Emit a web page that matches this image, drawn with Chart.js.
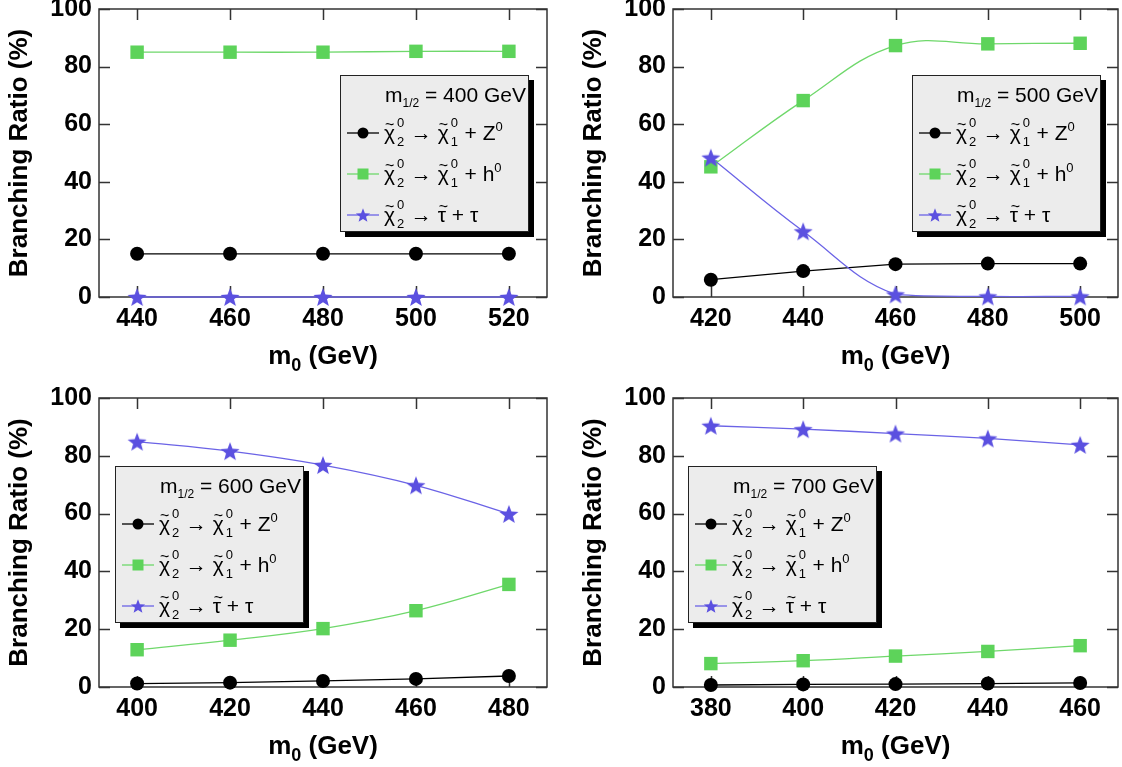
<!DOCTYPE html>
<html>
<head>
<meta charset="utf-8">
<title>Branching ratios</title>
<script src="https://cdn.jsdelivr.net/npm/chart.js@4.4.0/dist/chart.umd.min.js"></script>
<style>
html, body { margin: 0; padding: 0; background: #fff; }
body { position: relative; width: 1122px; height: 767px; overflow: hidden; font-family: "Liberation Sans", Arial, sans-serif; }
canvas.panel { position: absolute; }
.xt { position: absolute; width: 300px; text-align: center; font-size: 26px; font-weight: bold; line-height: 30px; color: #000; white-space: nowrap; }
.xt sub { font-size: 18px; line-height: 0; vertical-align: -7px; }
.leg { position: absolute; width: 189px; height: 157px; box-sizing: border-box; background: #ececec;
       border: 1.5px solid #222; box-shadow: 5px 5px 0 #000; color: #000; }
.leg .ttl { position: absolute; right: 2px; top: 6px; font-size: 21px; line-height: 26px; white-space: nowrap; }
.leg .ttl sub { font-size: 12px; line-height: 0; vertical-align: -5px; }
.leg .row { position: absolute; left: 0; height: 30px; display: flex; align-items: center; white-space: nowrap; font-size: 21px; }
.leg .row svg { width: 40px; height: 30px; flex: none; }
.leg .txt { margin-left: 3px; line-height: 30px; }
.tl { position: relative; display: inline-block; line-height: 21px; }
.tl .tld { position: absolute; left: 1px; top: -5px; font-size: 16px; line-height: 16px; }
.ss { display: inline-block; position: relative; width: 10px; height: 21px; vertical-align: baseline; }
.ss i { position: absolute; left: 2px; font-style: normal; font-size: 13px; line-height: 13px; }
.ss i.u { top: -3px; }
.ss i.d { top: 16px; }
.sp { font-size: 13px; line-height: 0; vertical-align: 9px; }
</style>
</head>
<body>
<script>
// m1/2 = 400 GeV
const m0_400 = [440, 460, 480, 500, 520];
const z_400 = [15, 15, 15, 15, 15];
const h_400 = [85, 85, 85, 85.3, 85.3];
const tau_400 = [0, 0, 0, 0, 0];

// m1/2 = 500 GeV
const m0_500 = [420, 440, 460, 480, 500];
const z_500 = [6.0, 9.0, 11.4, 11.6, 11.6];
const h_500 = [45.2, 68.2, 87.3, 87.9, 88.1];
const tau_500 = [48.4, 22.8, 0.9, 0.2, 0.2];

// m1/2 = 600 GeV
const m0_600 = [400, 420, 440, 460, 480];
const z_600 = [1.2, 1.5, 2.1, 2.8, 3.8];
const h_600 = [12.9, 16.2, 20.2, 26.4, 35.5];
const tau_600 = [84.9, 81.6, 76.8, 69.8, 59.9];

// m1/2 = 700 GeV
const m0_700 = [380, 400, 420, 440, 460];
const z_700 = [0.7, 0.9, 1.0, 1.2, 1.4];
const h_700 = [8.1, 9.1, 10.7, 12.3, 14.3];
const tau_700 = [90.4, 89.2, 87.7, 86.0, 83.8];

const yTicks = [0, 20, 40, 60, 80, 100];
const m12Labels = ['400', '500', '600', '700'];

const yTitle = 'Branching Ratio (%)';

const COL_Z = '#000000';
const COL_H = '#5dd35a';
const COL_H_LINE = '#6fd86b';
const COL_TAU = '#5b50e0';
const COL_TAU_LINE = '#6b63e6';
const TICK = 11;

// page positions of each plot box and its legend
const panels = [
    { xs: m0_400, z: z_400, h: h_400, tau: tau_400, m12: m12Labels[0], area: { l: 99, r: 547, t: 9, b: 297 }, leg: { x: 340, y: 75 } },
    { xs: m0_500, z: z_500, h: h_500, tau: tau_500, m12: m12Labels[1], area: { l: 673, r: 1118, t: 9, b: 297 }, leg: { x: 912, y: 75 } },
    { xs: m0_600, z: z_600, h: h_600, tau: tau_600, m12: m12Labels[2], area: { l: 99, r: 547, t: 398, b: 687 }, leg: { x: 115, y: 466 } },
    { xs: m0_700, z: z_700, h: h_700, tau: tau_700, m12: m12Labels[3], area: { l: 673, r: 1118, t: 398, b: 687 }, leg: { x: 688, y: 466 } }
];

// filled five point star used as the point style
function starImage(r, color) {
    const c = document.createElement('canvas');
    const s = Math.ceil(2 * r + 2);
    c.width = s;
    c.height = s;
    const g = c.getContext('2d');
    g.translate(s / 2, s / 2 + r * 0.1);
    g.beginPath();
    for (let i = 0; i < 10; i++) {
        const rad = i % 2 ? r * 0.42 : r;
        const a = -Math.PI / 2 + i * Math.PI / 5;
        g.lineTo(rad * Math.cos(a), rad * Math.sin(a));
    }
    g.closePath();
    g.fillStyle = color;
    g.fill();
    return c;
}
const starPoint = starImage(10, COL_TAU);

// box around the plot with inward ticks on all four sides
const frameTicks = {
    id: 'frameTicks',
    beforeDatasetsDraw(chart) {
        const { ctx, chartArea: a, scales: { x, y } } = chart;
        ctx.save();
        ctx.strokeStyle = '#333';
        ctx.lineWidth = 1.5;
        ctx.strokeRect(a.left, a.top, a.right - a.left, a.bottom - a.top);
        ctx.beginPath();
        x.ticks.forEach(t => {
            const px = Math.round(x.getPixelForValue(t.value)) + 0.5;
            ctx.moveTo(px, a.bottom); ctx.lineTo(px, a.bottom - TICK);
            ctx.moveTo(px, a.top); ctx.lineTo(px, a.top + TICK);
        });
        y.ticks.forEach(t => {
            const py = Math.round(y.getPixelForValue(t.value)) + 0.5;
            ctx.moveTo(a.left, py); ctx.lineTo(a.left + TICK, py);
            ctx.moveTo(a.right, py); ctx.lineTo(a.right - TICK, py);
        });
        ctx.stroke();
        ctx.restore();
    }
};

function makeChart(p) {
    const canvas = document.createElement('canvas');
    canvas.className = 'panel';
    const left = p.area.l - 99;
    const top = p.area.t - 29;
    const w = 561;
    const h = p.area.b + 86 - top;
    canvas.width = w;
    canvas.height = h;
    canvas.style.left = left + 'px';
    canvas.style.top = top + 'px';
    canvas.style.width = w + 'px';
    canvas.style.height = h + 'px';
    document.body.appendChild(canvas);

    const pts = vals => p.xs.map((v, i) => ({ x: v, y: vals[i] }));
    const tickFont = { family: '"Liberation Sans", Arial, sans-serif', size: 25, weight: 'bold' };
    const titleFont = { family: '"Liberation Sans", Arial, sans-serif', size: 26, weight: 'bold' };

    return new Chart(canvas.getContext('2d'), {
        type: 'line',
        data: {
            datasets: [{
                data: pts(p.tau),
                borderColor: COL_TAU_LINE,
                borderWidth: 1.3,
                pointStyle: starPoint,
                tension: 0.4,
                clip: false,
                order: 0
            }, {
                data: pts(p.h),
                borderColor: COL_H_LINE,
                borderWidth: 1.3,
                pointStyle: 'rect',
                pointRadius: 9.5,
                pointBackgroundColor: COL_H,
                pointBorderWidth: 0,
                tension: 0.4,
                clip: false,
                order: 1
            }, {
                data: pts(p.z),
                borderColor: COL_Z,
                borderWidth: 1.3,
                pointStyle: 'circle',
                pointRadius: 7,
                pointBackgroundColor: COL_Z,
                pointBorderWidth: 0,
                tension: 0,
                clip: false,
                order: 2
            }]
        },
        options: {
            responsive: false,
            animation: false,
            layout: {
                padding: { left: 0, right: w - (p.area.r - left), top: 29, bottom: 0 }
            },
            scales: {
                x: {
                    type: 'linear',
                    min: p.xs[0] - 8.2,
                    max: p.xs[p.xs.length - 1] + 8.2,
                    afterBuildTicks: s => { s.ticks = p.xs.map(v => ({ value: v })); },
                    afterFit: s => { s.height = 86; },
                    grid: { display: false, drawTicks: false },
                    border: { display: false },
                    ticks: { padding: 7, color: '#000', font: tickFont, maxRotation: 0 }
                },
                y: {
                    min: 0,
                    max: 100,
                    afterBuildTicks: s => { s.ticks = yTicks.map(v => ({ value: v })); },
                    afterFit: s => { s.width = 99; },
                    grid: { display: false, drawTicks: false },
                    border: { display: false },
                    ticks: { padding: 7, color: '#000', font: tickFont },
                    title: { display: true, text: yTitle, color: '#000', font: titleFont, padding: { top: 4, bottom: 0 } }
                }
            },
            plugins: {
                legend: { display: false },
                tooltip: { enabled: false }
            }
        },
        plugins: [frameTicks]
    });
}

// x axis title as html so the subscript is kept
function makeXTitle(p) {
    const d = document.createElement('div');
    d.className = 'xt';
    d.style.left = ((p.area.l + p.area.r) / 2 - 150) + 'px';
    d.style.top = (p.area.b + 43) + 'px';
    d.innerHTML = 'm<sub>0</sub> (GeV)';
    document.body.appendChild(d);
}

// legend box drawn as html so the sub and superscripts stay real text
function tilde(ch) {
    return '<span class="tl">' + ch + '<span class="tld">~</span></span>';
}
function chi(sub) {
    return tilde('χ') + '<span class="ss"><i class="u">0</i><i class="d">' + sub + '</i></span>';
}
const legendRows = [
    { text: chi('2') + ' → ' + chi('1') + ' + Z<span class="sp">0</span>', mark: 'circle', color: COL_Z, line: COL_Z },
    { text: chi('2') + ' → ' + chi('1') + ' + h<span class="sp">0</span>', mark: 'rect', color: COL_H, line: COL_H_LINE },
    { text: chi('2') + ' → ' + tilde('τ') + ' + τ', mark: 'star', color: COL_TAU, line: COL_TAU_LINE }
];
const rowCenters = [57, 98, 139];

function markSvg(r) {
    let m = '';
    if (r.mark === 'circle') m = '<circle cx="22" cy="15" r="5.5" fill="' + r.color + '"/>';
    if (r.mark === 'rect') m = '<rect x="16.5" y="9.5" width="11" height="11" fill="' + r.color + '"/>';
    if (r.mark === 'star') {
        const pts = [];
        for (let i = 0; i < 10; i++) {
            const rad = i % 2 ? 3.2 : 7.5;
            const a = -Math.PI / 2 + i * Math.PI / 5;
            pts.push((22 + rad * Math.cos(a)).toFixed(2) + ',' + (15.8 + rad * Math.sin(a)).toFixed(2));
        }
        m = '<polygon points="' + pts.join(' ') + '" fill="' + r.color + '"/>';
    }
    return '<svg viewBox="0 0 40 30"><line x1="6" y1="15" x2="38" y2="15" stroke="' + r.line + '" stroke-width="1.3"/>' + m + '</svg>';
}

function makeLegend(p) {
    const box = document.createElement('div');
    box.className = 'leg';
    box.style.left = p.leg.x + 'px';
    box.style.top = p.leg.y + 'px';
    let html = '<div class="ttl">m<sub>1/2</sub> = ' + p.m12 + ' GeV</div>';
    legendRows.forEach((r, i) => {
        html += '<div class="row" style="top:' + (rowCenters[i] - 15) + 'px">' + markSvg(r) +
            '<span class="txt">' + r.text + '</span></div>';
    });
    box.innerHTML = html;
    document.body.appendChild(box);
}

panels.forEach(p => { makeChart(p); makeXTitle(p); makeLegend(p); });
</script>
</body>
</html>
